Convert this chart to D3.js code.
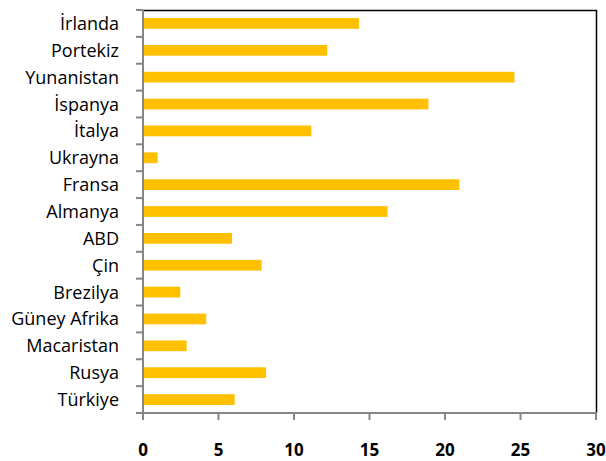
<!DOCTYPE html>
<html>
<head>
<meta charset="utf-8">
<script src="https://cdn.jsdelivr.net/npm/d3@7"></script>
<style>
  body { margin: 0; background: #fff; }
  svg { display: block; }
  text { font-family: "Open Sans", "Liberation Sans", sans-serif; fill: #000; }
</style>
</head>
<body>
<script>
// ulkeler (yukaridan asagiya)
var countries = ["İrlanda", "Portekiz", "Yunanistan", "İspanya", "İtalya", "Ukrayna", "Fransa",
    "Almanya", "ABD", "Çin", "Brezilya", "Güney Afrika", "Macaristan", "Rusya", "Türkiye"];
var values = [14.3, 12.2, 24.6, 18.9, 11.15, 0.97, 20.95, 16.2, 5.9, 7.86, 2.47, 4.19, 2.89, 8.15, 6.07];
var xTicks = [0, 5, 10, 15, 20, 25, 30];

var width = 606, height = 461;
var plotLeft = 143, plotRight = 596, plotTop = 10, plotBottom = 413;

var svg = d3.select('body').append('svg')
        .attr('width', width)
        .attr('height', height);

var x = d3.scaleLinear().domain([0, 30]).range([plotLeft, plotRight]);
var y = d3.scaleBand().domain(countries).range([plotTop, plotBottom]).paddingInner(0.6).paddingOuter(0.3);
var yEdges = d3.scaleBand().domain(countries).range([plotTop, plotBottom]);

// cubuklar
svg.append('g').selectAll('rect')
        .data(countries)
        .enter().append('rect')
        .attr('x', x(0))
        .attr('y', function (d) { return y(d); })
        .attr('width', function (d, i) { return x(values[i]) - x(0); })
        .attr('height', y.bandwidth())
        .style('fill', '#FFC000');

// ust ve sag cerceve
svg.append('path')
        .attr('d', 'M' + plotLeft + ',' + (plotTop + 0.5) + 'H' + (plotRight + 0.5) + 'V' + plotBottom)
        .style('fill', 'none')
        .style('stroke', '#000')
        .style('stroke-width', 1.5);

// y ekseni
var yLine = svg.append('g');
yLine.append('line')
        .attr('x1', plotLeft).attr('x2', plotLeft)
        .attr('y1', plotTop).attr('y2', plotBottom + 1)
        .style('stroke', '#868686').style('stroke-width', 2);
yLine.selectAll('line.tick')
        .data(countries.concat(['end']))
        .enter().append('line')
        .attr('class', 'tick')
        .attr('x1', plotLeft - 7).attr('x2', plotLeft)
        .attr('y1', function (d, i) { return plotTop + i * yEdges.step(); })
        .attr('y2', function (d, i) { return plotTop + i * yEdges.step(); })
        .style('stroke', '#868686').style('stroke-width', 2);
yLine.selectAll('text')
        .data(countries)
        .enter().append('text')
        .attr('x', 119)
        .attr('y', function (d) { return yEdges(d) + yEdges.bandwidth() / 2; })
        .attr('dy', '0.36em')
        .attr('text-anchor', 'end')
        .style('font-size', '18px')
        .text(function (d) { return d; });

// x ekseni
var xAxis = svg.append('g');
xAxis.append('line')
        .attr('x1', plotLeft - 7).attr('x2', plotRight + 1)
        .attr('y1', plotBottom).attr('y2', plotBottom)
        .style('stroke', '#868686').style('stroke-width', 2);
xAxis.selectAll('line.tick')
        .data(xTicks)
        .enter().append('line')
        .attr('class', 'tick')
        .attr('x1', function (d) { return x(d); })
        .attr('x2', function (d) { return x(d); })
        .attr('y1', plotBottom).attr('y2', plotBottom + 7)
        .style('stroke', '#868686').style('stroke-width', 2);
xAxis.selectAll('text')
        .data(xTicks)
        .enter().append('text')
        .attr('x', function (d) { return x(d); })
        .attr('y', 456)
        .attr('text-anchor', 'middle')
        .style('font-size', '17px')
        .style('font-weight', 'bold')
        .text(function (d) { return d; });
</script>
</body>
</html>
